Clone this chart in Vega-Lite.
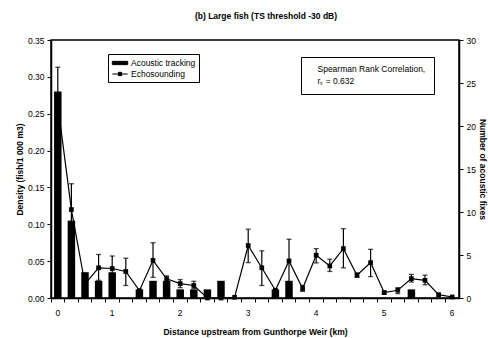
{
  "$schema": "https://vega.github.io/schema/vega-lite/v6.json",
  "autosize": "none",
  "width": 408,
  "height": 258,
  "padding": {"left": 51, "top": 40, "right": 29, "bottom": 40},
  "background": "white",
  "title": {
    "text": "(b) Large fish (TS threshold -30 dB)",
    "font": "Liberation Sans",
    "fontSize": 8.5,
    "fontWeight": "bold",
    "color": "black",
    "anchor": "middle",
    "dx": 11,
    "offset": 16
  },
  "config": {
    "view": {"stroke": "black", "strokeWidth": 1.5},
    "font": "Liberation Sans",
    "axis": {
      "labelFont": "Liberation Sans",
      "labelFontSize": 8.5,
      "labelColor": "black",
      "labelOverlap": false,
      "labelFlush": false,
      "titleFont": "Liberation Sans",
      "titleFontSize": 8.5,
      "titleFontWeight": "bold",
      "titleColor": "black",
      "domainColor": "black",
      "domainWidth": 1.5,
      "tickColor": "black",
      "tickWidth": 1,
      "tickSize": 4,
      "grid": false
    },
    "legend": {
      "labelFont": "Liberation Sans",
      "labelFontSize": 8.5,
      "labelColor": "black"
    }
  },
  "data": {
    "values": [
      {"km": 0, "fixes": 24, "density": 0.262, "lo": 0.214, "hi": 0.313},
      {"km": 0.25, "fixes": 9, "density": 0.12, "lo": 0.085, "hi": 0.155},
      {"km": 0.5, "fixes": 3, "density": 0.019, "lo": null, "hi": null},
      {"km": 0.75, "fixes": 2, "density": 0.041, "lo": 0.024, "hi": 0.059},
      {"km": 1, "fixes": 3, "density": 0.04, "lo": 0.023, "hi": 0.057},
      {"km": 1.2, "fixes": 0, "density": 0.036, "lo": 0.017, "hi": 0.054},
      {"km": 1.4, "fixes": 1, "density": 0.01, "lo": null, "hi": null},
      {"km": 1.6, "fixes": 2, "density": 0.051, "lo": 0.028, "hi": 0.075},
      {"km": 1.8, "fixes": 2, "density": 0.026, "lo": 0.021, "hi": 0.03},
      {"km": 2, "fixes": 1, "density": 0.0195, "lo": 0.014, "hi": 0.025},
      {"km": 2.2, "fixes": 1, "density": 0.017, "lo": 0.0128, "hi": 0.0227},
      {"km": 2.4, "fixes": 1, "density": 0.0, "lo": null, "hi": null},
      {"km": 2.6, "fixes": 2, "density": 0.0, "lo": null, "hi": null},
      {"km": 2.8, "fixes": 0, "density": 0.001, "lo": null, "hi": null},
      {"km": 3, "fixes": 0, "density": 0.0712, "lo": 0.048, "hi": 0.0933},
      {"km": 3.2, "fixes": 0, "density": 0.041, "lo": 0.017, "hi": 0.064},
      {"km": 3.4, "fixes": 1, "density": 0.0105, "lo": null, "hi": null},
      {"km": 3.6, "fixes": 2, "density": 0.0503, "lo": 0.022, "hi": 0.0797},
      {"km": 3.8, "fixes": 0, "density": 0.0128, "lo": 0.009, "hi": 0.017},
      {"km": 4, "fixes": 0, "density": 0.058, "lo": 0.0476, "hi": 0.067},
      {"km": 4.2, "fixes": 0, "density": 0.0435, "lo": 0.036, "hi": 0.0526},
      {"km": 4.4, "fixes": 0, "density": 0.067, "lo": 0.041, "hi": 0.094},
      {"km": 4.6, "fixes": 0, "density": 0.031, "lo": 0.028, "hi": 0.034},
      {"km": 4.8, "fixes": 0, "density": 0.048, "lo": 0.029, "hi": 0.066},
      {"km": 5, "fixes": 0, "density": 0.0073, "lo": 0.005, "hi": 0.0095},
      {"km": 5.2, "fixes": 0, "density": 0.0105, "lo": 0.006, "hi": 0.014},
      {"km": 5.4, "fixes": 1, "density": 0.0263, "lo": 0.0217, "hi": 0.032},
      {"km": 5.6, "fixes": 0, "density": 0.024, "lo": 0.018, "hi": 0.031},
      {"km": 5.8, "fixes": 0, "density": 0.0045, "lo": null, "hi": null},
      {"km": 6, "fixes": 0, "density": 0.0014, "lo": null, "hi": null}
    ]
  },
  "encoding": {
    "x": {
      "field": "km",
      "type": "ordinal",
      "scale": {"paddingInner": 0, "paddingOuter": 0},
      "axis": {
        "title": "Distance upstream from Gunthorpe Weir (km)",
        "labelAngle": 0,
        "bandPosition": 0,
        "labelPadding": 6,
        "labelExpr": "floor(datum.value) == datum.value ? datum.label : ''",
        "titlePadding": 11
      }
    }
  },
  "layer": [
    {
      "mark": {"type": "bar", "color": "black", "width": {"band": 0.55}},
      "encoding": {
        "y": {
          "field": "fixes",
          "type": "quantitative",
          "scale": {"domain": [0, 30], "nice": false},
          "axis": {
            "orient": "right",
            "title": "Number of acoustic fixes",
            "values": [0, 5, 10, 15, 20, 25, 30],
            "labelPadding": 3,
            "titlePadding": 2
          }
        },
        "color": {
          "datum": "Acoustic tracking",
          "scale": {"domain": ["Acoustic tracking", "Echosounding"], "range": ["black", "black"]},
          "legend": {
            "orient": "none",
            "legendX": 57,
            "legendY": 14,
            "title": null,
            "direction": "vertical",
            "strokeColor": "black",
            "fillColor": "white",
            "padding": 3,
            "symbolSize": 121,
            "symbolOffset": 3,
            "labelOffset": 5,
            "rowPadding": 0,
            "encode": {
              "symbols": {
                "update": {
                  "shape": {"signal": "datum.value == 'Acoustic tracking' ? 'M-1.4,-0.3H1.4V0.3H-1.4Z' : 'M-1.4,0H1.4M-0.3,-0.3H0.3V0.3H-0.3Z'"},
                  "fill": {"value": "black"},
                  "stroke": {"value": "black"},
                  "strokeWidth": {"value": 1},
                  "opacity": {"value": 1}
                }
              }
            }
          }
        }
      }
    },
    {
      "layer": [
        {
          "mark": {"type": "line", "color": "black", "strokeWidth": 1.2},
          "encoding": {
            "y": {
              "field": "density",
              "type": "quantitative",
              "scale": {"domain": [0, 0.35], "nice": false},
              "axis": {
                "orient": "left",
                "title": "Density (fish/1 000 m3)",
                "values": [0, 0.05, 0.1, 0.15, 0.2, 0.25, 0.3, 0.35],
                "tickCount": 8,
                "format": ".2f",
                "labelPadding": 3,
                "titlePadding": 3
              }
            },
            "color": {"datum": "Echosounding"}
          }
        },
        {
          "transform": [{"filter": "datum.lo != null"}],
          "mark": {"type": "rule", "color": "black", "strokeWidth": 1.2},
          "encoding": {
            "y": {
              "field": "lo",
              "type": "quantitative",
              "scale": {"domain": [0, 0.35], "nice": false},
              "axis": {
                "orient": "left",
                "title": "Density (fish/1 000 m3)",
                "values": [0, 0.05, 0.1, 0.15, 0.2, 0.25, 0.3, 0.35],
                "tickCount": 8,
                "format": ".2f",
                "labelPadding": 3,
                "titlePadding": 3
              }
            },
            "y2": {"field": "hi"}
          }
        },
        {
          "transform": [{"filter": "datum.lo != null"}],
          "mark": {"type": "tick", "color": "black", "size": 5, "thickness": 1.3, "orient": "horizontal"},
          "encoding": {
            "y": {
              "field": "lo",
              "type": "quantitative",
              "scale": {"domain": [0, 0.35], "nice": false},
              "axis": {
                "orient": "left",
                "title": "Density (fish/1 000 m3)",
                "values": [0, 0.05, 0.1, 0.15, 0.2, 0.25, 0.3, 0.35],
                "tickCount": 8,
                "format": ".2f",
                "labelPadding": 3,
                "titlePadding": 3
              }
            }
          }
        },
        {
          "transform": [{"filter": "datum.hi != null"}],
          "mark": {"type": "tick", "color": "black", "size": 5, "thickness": 1.3, "orient": "horizontal"},
          "encoding": {
            "y": {
              "field": "hi",
              "type": "quantitative",
              "scale": {"domain": [0, 0.35], "nice": false},
              "axis": {
                "orient": "left",
                "title": "Density (fish/1 000 m3)",
                "values": [0, 0.05, 0.1, 0.15, 0.2, 0.25, 0.3, 0.35],
                "tickCount": 8,
                "format": ".2f",
                "labelPadding": 3,
                "titlePadding": 3
              }
            }
          }
        },
        {
          "mark": {"type": "point", "shape": "square", "filled": true, "color": "black", "size": 22, "opacity": 1},
          "encoding": {
            "y": {
              "field": "density",
              "type": "quantitative",
              "scale": {"domain": [0, 0.35], "nice": false},
              "axis": {
                "orient": "left",
                "title": "Density (fish/1 000 m3)",
                "values": [0, 0.05, 0.1, 0.15, 0.2, 0.25, 0.3, 0.35],
                "tickCount": 8,
                "format": ".2f",
                "labelPadding": 3,
                "titlePadding": 3
              }
            }
          }
        }
      ]
    },
    {
      "data": {"values": [{"note": "Spearman Rank Correlation,"}, {"note": "rₛ = 0.632"}]},
      "mark": {"type": "point", "opacity": 0},
      "encoding": {
        "x": null,
        "shape": {
          "field": "note",
          "type": "nominal",
          "scale": {"domain": ["Spearman Rank Correlation,", "rₛ = 0.632"]},
          "legend": {
            "orient": "none",
            "legendX": 250,
            "legendY": 17,
            "title": null,
            "direction": "vertical",
            "strokeColor": "black",
            "fillColor": "white",
            "padding": 8,
            "symbolSize": 0,
            "symbolOpacity": 0,
            "labelOffset": 0,
            "rowPadding": 3
          }
        }
      }
    }
  ],
  "resolve": {"scale": {"y": "independent"}}
}
